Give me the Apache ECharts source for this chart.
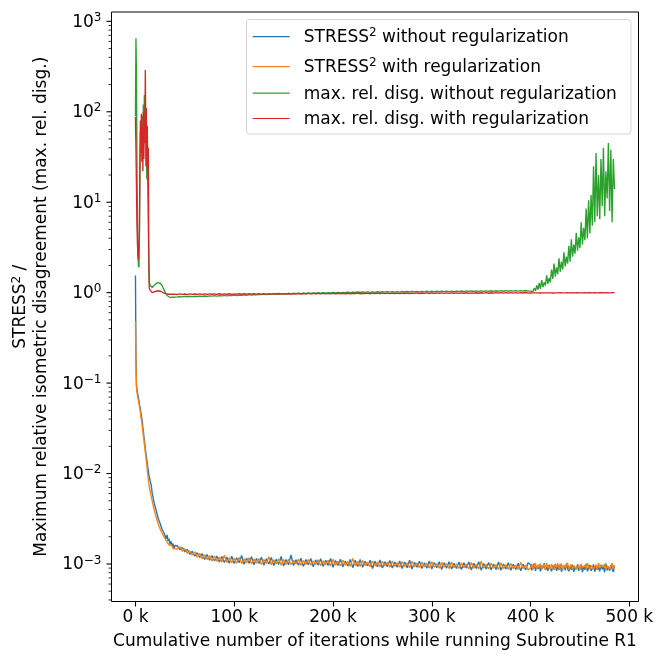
<!DOCTYPE html>
<html><head><meta charset="utf-8">
<script src="https://cdn.jsdelivr.net/npm/echarts@6/dist/echarts.min.js"></script>
<style>html,body{margin:0;padding:0;background:#fff}#c{width:656px;height:654px}</style>
</head><body><div id="c"></div>
<script>
// x values in thousands of cumulative iterations
const iterationsK = [
0,0.5,1,1.5,2,2.5,3,3.5,4,4.5,
5,5.5,6,6.5,7,7.5,8,8.5,9,9.5,
10,10.5,11,11.5,12,12.5,13,13.5,14,
15,16,17,18,19,20,21,22,23,24,
25,26,27,28,29,30,31,32,33,34,
35,36,37,38,39,40,
42.5,45,47.5,50,52.5,55,57.5,60,62.5,65,
67.5,70,72.5,75,77.5,80,82.5,85,87.5,90,
92.5,95,97.5,100,102.5,105,107.5,110,112.5,115,
117.5,120,122.5,125,127.5,130,132.5,135,137.5,140,
142.5,145,147.5,150,152.5,155,157.5,160,162.5,165,
167.5,170,172.5,175,177.5,180,182.5,185,187.5,190,
192.5,195,197.5,200,202.5,205,207.5,210,212.5,215,
217.5,220,222.5,225,227.5,230,232.5,235,237.5,240,
242.5,245,247.5,250,252.5,255,257.5,260,262.5,265,
267.5,270,272.5,275,277.5,280,282.5,285,287.5,290,
292.5,295,297.5,300,302.5,305,307.5,310,312.5,315,
317.5,320,322.5,325,327.5,330,332.5,335,337.5,340,
342.5,345,347.5,350,352.5,355,357.5,360,362.5,365,
367.5,370,372.5,375,377.5,380,382.5,385,387.5,390,
392.5,395,397.5,
400,401.25,402.5,403.75,405,406.25,407.5,408.75,
410,411.25,412.5,413.75,415,416.25,417.5,418.75,
420,421.25,422.5,423.75,425,426.25,427.5,428.75,
430,431.25,432.5,433.75,435,436.25,437.5,438.75,
440,441.25,442.5,443.75,445,446.25,447.5,448.75,
450,451.25,452.5,453.75,455,456.25,457.5,458.75,
460,461.25,462.5,463.75,465,466.25,467.5,468.75,
470,471.25,472.5,473.75,475,476.25,477.5,478.75,
480,481.25,482.5,483.75,485
];

const stressWithoutReg = [
1.55,0.21,0.098,0.085,0.079,0.074,0.069,0.064,0.061,0.055,
0.052,0.047,0.044,0.040,0.037,0.032,0.030,0.026,0.025,0.021,
0.0205,0.017,0.0172,0.0142,0.0145,0.0118,0.0122,0.0098,0.0101,
0.0082,0.0074,0.0060,0.0058,0.0047,0.0046,0.0039,0.0038,0.0032,0.0033,
0.0028,0.0029,0.0024,0.0025,0.0022,0.0023,0.0019,0.0021,0.0018,0.0019,
0.00165,0.00178,0.00158,0.00168,0.00148,0.0016,
1.58e-3,1.44e-3,1.52e-3,1.36e-3,1.45e-3,1.28e-3,1.38e-3,1.22e-3,1.33e-3,1.18e-3,
1.30e-3,1.12e-3,1.27e-3,1.10e-3,1.24e-3,1.08e-3,1.22e-3,1.05e-3,1.21e-3,1.04e-3,
1.19e-3,1.02e-3,1.22e-3,1.01e-3,1.17e-3,1.03e-3,1.24e-3,0.99e-3,1.16e-3,1.02e-3,
1.20e-3,0.98e-3,1.15e-3,1.01e-3,1.19e-3,0.97e-3,1.14e-3,1.00e-3,1.18e-3,0.96e-3,
1.13e-3,0.99e-3,1.21e-3,0.95e-3,1.12e-3,0.98e-3,1.26e-3,0.96e-3,1.11e-3,0.97e-3,
1.16e-3,0.94e-3,1.12e-3,0.98e-3,1.15e-3,0.93e-3,1.11e-3,0.97e-3,1.14e-3,0.94e-3,
1.10e-3,0.96e-3,1.15e-3,0.92e-3,1.09e-3,0.96e-3,1.13e-3,0.93e-3,1.08e-3,0.95e-3,
1.12e-3,0.91e-3,1.10e-3,0.94e-3,1.12e-3,0.92e-3,1.07e-3,0.95e-3,1.10e-3,0.89e-3,
1.07e-3,0.93e-3,1.11e-3,0.90e-3,1.06e-3,0.93e-3,1.09e-3,0.90e-3,1.05e-3,0.92e-3,
1.08e-3,0.89e-3,1.05e-3,0.91e-3,1.10e-3,0.88e-3,1.04e-3,0.92e-3,1.07e-3,0.89e-3,
1.03e-3,0.90e-3,1.08e-3,0.88e-3,1.04e-3,0.91e-3,1.06e-3,0.87e-3,1.03e-3,0.90e-3,
1.06e-3,0.88e-3,1.02e-3,0.89e-3,1.05e-3,0.87e-3,1.03e-3,0.90e-3,1.05e-3,0.86e-3,
1.02e-3,0.89e-3,1.06e-3,0.85e-3,1.01e-3,0.88e-3,1.04e-3,0.86e-3,1.00e-3,0.87e-3,
1.05e-3,0.85e-3,1.00e-3,0.88e-3,1.03e-3,0.85e-3,0.99e-3,0.87e-3,1.02e-3,0.84e-3,
0.99e-3,0.86e-3,1.03e-3,
0.98e-3,0.85e-3,0.93e-3,1.01e-3,0.84e-3,0.95e-3,0.88e-3,0.99e-3,
0.83e-3,0.96e-3,0.90e-3,1.02e-3,0.86e-3,0.92e-3,0.84e-3,0.98e-3,
0.89e-3,0.83e-3,0.97e-3,0.87e-3,1.00e-3,0.84e-3,0.93e-3,0.86e-3,
0.99e-3,0.82e-3,0.91e-3,0.96e-3,0.85e-3,1.01e-3,0.88e-3,0.83e-3,
0.95e-3,0.86e-3,0.98e-3,0.82e-3,0.92e-3,0.87e-3,0.99e-3,0.84e-3,
0.90e-3,0.96e-3,0.81e-3,0.94e-3,0.86e-3,1.00e-3,0.83e-3,0.91e-3,
0.97e-3,0.84e-3,0.89e-3,0.99e-3,0.82e-3,0.95e-3,0.86e-3,0.92e-3,
0.83e-3,0.98e-3,0.87e-3,0.93e-3,0.81e-3,1.01e-3,0.85e-3,0.94e-3,
0.84e-3,0.97e-3,0.88e-3,0.82e-3,0.95e-3
];

const stressWithReg = [
0.48,0.17,0.09,0.08,0.073,0.07,0.064,0.061,0.056,0.052,
0.047,0.045,0.039,0.037,0.032,0.03,0.026,0.024,0.021,0.0195,
0.0168,0.0158,0.0135,0.0128,0.0108,0.0104,0.0087,0.0085,0.0071,
0.0068,0.0056,0.0054,0.0044,0.0043,0.0036,0.0036,0.0030,0.0030,0.0026,
0.0026,0.0023,0.0023,0.0021,0.0021,0.0019,0.00195,0.00175,0.00182,0.00163,
0.0017,0.00155,0.0016,0.00148,0.00155,0.00142,
1.46e-3,1.55e-3,1.38e-3,1.47e-3,1.31e-3,1.40e-3,1.25e-3,1.36e-3,1.19e-3,1.31e-3,
1.14e-3,1.27e-3,1.12e-3,1.23e-3,1.08e-3,1.22e-3,1.07e-3,1.19e-3,1.05e-3,1.25e-3,
1.04e-3,1.17e-3,1.03e-3,1.16e-3,1.02e-3,1.18e-3,1.01e-3,1.14e-3,1.03e-3,1.17e-3,
1.00e-3,1.13e-3,1.02e-3,1.15e-3,0.99e-3,1.12e-3,1.01e-3,1.20e-3,0.98e-3,1.11e-3,
1.00e-3,1.14e-3,0.97e-3,1.12e-3,0.99e-3,1.13e-3,0.98e-3,1.10e-3,1.00e-3,1.13e-3,
0.96e-3,1.09e-3,0.99e-3,1.12e-3,0.97e-3,1.08e-3,0.99e-3,1.11e-3,0.96e-3,1.08e-3,
0.98e-3,1.10e-3,0.95e-3,1.13e-3,0.97e-3,1.07e-3,0.95e-3,1.10e-3,0.97e-3,1.06e-3,
0.94e-3,1.15e-3,0.96e-3,1.06e-3,0.94e-3,1.09e-3,0.96e-3,1.05e-3,0.93e-3,1.08e-3,
0.95e-3,1.05e-3,0.93e-3,1.07e-3,0.95e-3,1.04e-3,0.92e-3,1.08e-3,0.94e-3,1.03e-3,
0.92e-3,1.06e-3,0.94e-3,1.03e-3,0.91e-3,1.07e-3,0.93e-3,1.02e-3,0.91e-3,1.05e-3,
0.93e-3,1.02e-3,0.90e-3,1.06e-3,0.92e-3,1.01e-3,0.90e-3,1.04e-3,0.92e-3,1.01e-3,
0.89e-3,1.05e-3,0.91e-3,1.00e-3,0.89e-3,1.03e-3,0.91e-3,1.00e-3,0.88e-3,1.04e-3,
0.90e-3,0.99e-3,0.88e-3,1.07e-3,0.90e-3,0.99e-3,0.88e-3,1.02e-3,0.90e-3,0.98e-3,
0.87e-3,1.03e-3,0.89e-3,0.98e-3,0.87e-3,1.01e-3,0.89e-3,0.97e-3,0.87e-3,1.04e-3,
0.89e-3,0.97e-3,0.86e-3,
0.90e-3,1.00e-3,0.87e-3,0.96e-3,1.02e-3,0.88e-3,0.97e-3,0.91e-3,
1.01e-3,0.87e-3,0.94e-3,0.99e-3,0.86e-3,1.03e-3,0.90e-3,0.95e-3,
0.87e-3,1.00e-3,0.92e-3,0.86e-3,0.98e-3,0.93e-3,1.02e-3,0.88e-3,
0.94e-3,1.01e-3,0.86e-3,0.97e-3,0.90e-3,0.95e-3,1.03e-3,0.87e-3,
0.92e-3,0.99e-3,0.86e-3,0.96e-3,1.01e-3,0.88e-3,0.93e-3,0.98e-3,
0.86e-3,1.00e-3,0.91e-3,0.87e-3,0.97e-3,0.89e-3,1.02e-3,0.94e-3,
0.87e-3,0.96e-3,1.00e-3,0.88e-3,0.93e-3,0.98e-3,0.86e-3,1.03e-3,
0.91e-3,0.87e-3,0.97e-3,0.92e-3,1.00e-3,0.86e-3,0.95e-3,0.99e-3,
0.88e-3,0.94e-3,1.02e-3,0.89e-3,0.97e-3
];

const disgWithoutReg = [
90,650,280,30,6,2.8,2.0,1.9,4,20,
60,45,70,35,90,40,120,55,153,45,
80,25,60,18,40,15,6,1.8,1.28,
1.20,1.16,1.14,1.19,1.21,1.25,1.27,1.29,1.31,1.28,
1.27,1.22,1.20,1.13,1.08,1.02,0.97,0.93,0.91,0.895,
0.885,0.88,0.885,0.89,0.888,0.895,
0.897,0.905,0.899,0.908,0.901,0.911,0.903,0.909,0.906,0.915,
0.908,0.918,0.911,0.921,0.914,0.925,0.917,0.924,0.921,0.931,
0.922,0.933,0.926,0.937,0.93,0.941,0.933,0.945,0.936,0.949,
0.941,0.952,0.944,0.956,0.949,0.961,0.951,0.963,0.956,0.968,
0.958,0.971,0.962,0.975,0.965,0.978,0.969,0.982,0.972,0.985,
0.975,0.988,0.978,0.991,0.981,0.995,0.984,0.997,0.987,1.0,
0.99,1.002,0.992,1.005,0.994,1.008,0.996,1.009,0.998,1.012,
1.0,1.014,1.003,1.016,1.004,1.019,1.006,1.02,1.007,1.021,
1.009,1.023,1.01,1.024,1.012,1.026,1.013,1.027,1.014,1.028,
1.015,1.03,1.016,1.031,1.017,1.033,1.018,1.034,1.019,1.035,
1.02,1.036,1.021,1.037,1.022,1.038,1.023,1.039,1.024,1.04,
1.025,1.041,1.026,1.042,1.027,1.043,1.028,1.044,1.029,1.045,
1.03,1.046,1.031,1.047,1.032,1.048,1.033,1.049,1.034,1.05,
1.035,1.051,1.036,1.052,1.037,1.053,1.038,1.054,1.039,1.055,
1.04,1.056,1.041,
1.04,1.06,1.03,1.12,1.05,1.2,1.08,1.28,
1.1,1.38,1.15,1.3,1.2,1.55,1.25,1.45,
1.3,1.8,1.42,2.1,1.5,1.9,1.6,2.4,
1.7,2.2,1.8,2.8,1.95,2.5,2.1,3.3,
2.2,3.9,2.5,3.4,2.7,4.6,2.9,4.1,
3.1,6.0,3.4,5.2,3.8,8.5,4.0,10.5,
4.5,12,5.5,25,6.0,35,7.0,20,
6.5,30,9,40,7,22,11,45,
8,38,6,30,14
];

const disgWithReg = [
88,40,15,6,3.5,2.6,2.3,2.4,5,25,
80,35,95,28,70,22,100,30,85,45,
290,60,110,25,70,20,40,3,1.12,
1.06,1.02,1.0,0.99,1.01,1.03,1.04,1.05,1.05,1.04,
1.03,1.03,1.02,1.0,0.99,0.975,0.97,0.965,0.96,0.965,
0.96,0.962,0.958,0.963,0.96,0.962,
0.955,0.968,0.958,0.966,0.953,0.969,0.957,0.967,0.955,0.97,
0.958,0.969,0.956,0.971,0.96,0.968,0.957,0.972,0.959,0.97,
0.961,0.973,0.958,0.971,0.962,0.974,0.96,0.972,0.963,0.975,
0.961,0.974,0.964,0.976,0.962,0.975,0.965,0.977,0.963,0.976,
0.966,0.978,0.964,0.977,0.967,0.979,0.965,0.978,0.968,0.98,
0.966,0.979,0.969,0.981,0.967,0.98,0.97,0.982,0.968,0.981,
0.971,0.983,0.969,0.982,0.972,0.984,0.97,0.983,0.973,0.985,
0.971,0.984,0.974,0.986,0.972,0.985,0.975,0.987,0.973,0.986,
0.976,0.988,0.974,0.987,0.977,0.989,0.975,0.988,0.978,0.99,
0.976,0.989,0.979,0.991,0.977,0.99,0.98,0.992,0.978,0.991,
0.981,0.993,0.979,0.992,0.982,0.994,0.98,0.993,0.983,0.995,
0.981,0.994,0.984,0.996,0.982,0.995,0.985,0.997,0.983,0.996,
0.986,0.998,0.984,0.997,0.987,0.999,0.985,0.998,0.988,1.0,
0.986,0.999,0.989,1.001,0.987,1.0,0.99,1.002,0.988,1.001,
0.991,1.003,0.989,
0.992,1.004,0.994,1.006,0.993,1.003,0.995,1.005,
0.992,1.006,0.996,1.004,0.993,1.007,0.995,1.005,
0.994,1.006,0.992,1.005,0.996,1.007,0.994,1.004,
0.997,1.008,0.995,1.006,0.993,1.005,0.997,1.008,
0.994,1.006,0.998,1.009,0.995,1.004,0.997,1.007,
0.995,1.009,0.996,1.006,0.999,1.008,0.994,1.006,
0.998,1.009,0.996,1.007,0.999,1.010,0.995,1.008,
0.997,1.009,0.999,1.006,0.996,1.010,0.998,1.008,
0.996,1.009,0.998,1.006,1.001
];

const seriesNames = [
  'STRESS² without regularization',
  'STRESS² with regularization',
  'max. rel. disg. without regularization',
  'max. rel. disg. with regularization'
];
const seriesColors = ['#1f77b4', '#ff7f0e', '#2ca02c', '#d62728'];

const xTickValuesK = [0, 100, 200, 300, 400, 500];
const yMajorTicks = [1e-3, 1e-2, 1e-1, 1, 10, 100, 1000];
const yMinorTicks = [
  4e-4, 5e-4, 6e-4, 7e-4, 8e-4, 9e-4,
  2e-3, 3e-3, 4e-3, 5e-3, 6e-3, 7e-3, 8e-3, 9e-3,
  2e-2, 3e-2, 4e-2, 5e-2, 6e-2, 7e-2, 8e-2, 9e-2,
  0.2, 0.3, 0.4, 0.5, 0.6, 0.7, 0.8, 0.9,
  2, 3, 4, 5, 6, 7, 8, 9,
  20, 30, 40, 50, 60, 70, 80, 90,
  200, 300, 400, 500, 600, 700, 800, 900
];

const allSeries = [stressWithoutReg, stressWithReg, disgWithoutReg, disgWithReg];
allSeries.forEach((a, i) => { if (a.length !== iterationsK.length) throw new Error('length mismatch in series ' + i + ': ' + a.length + ' vs ' + iterationsK.length); });

const FONT = 'DejaVu Sans';
const FS = 17, SUP = 12;
const X_MIN = -24.25, X_MAX = 509.25;
const Y_MIN = 3.846e-4, Y_MAX = 1268;

const richSup = {
  b: { fontSize: FS, fontFamily: FONT, color: '#000', padding: [2, 0, 0, 0], verticalAlign: 'bottom' },
  s: { fontSize: SUP, fontFamily: FONT, color: '#000', verticalAlign: 'top' }
};

function supLabel(name) {
  if (name.indexOf('STRESS²') === 0) {
    return '{b|STRESS}{s|2}{b|' + name.slice(7) + '}';
  }
  return '{b|' + name + '}';
}

const chart = echarts.init(document.getElementById('c'), null, { renderer: 'canvas' });

const lineSeries = seriesNames.map((name, i) => ({
  name: name,
  type: 'line',
  data: iterationsK.map((x, j) => [x, allSeries[i][j]]),
  showSymbol: false,
  symbol: 'none',
  color: seriesColors[i],
  itemStyle: { color: seriesColors[i] },
  lineStyle: { color: seriesColors[i], width: 1.35 },
  sampling: null,
  silent: true,
  z: 2 + i
}));

function tickSeries(values, len, width) {
  return {
    type: 'custom',
    silent: true,
    clip: false,
    z: 10,
    data: values.map(v => [X_MIN, v]),
    renderItem: function (params, api) {
      const c = api.coord([api.value(0), api.value(1)]);
      return {
        type: 'line',
        shape: { x1: c[0] - len, y1: c[1], x2: c[0], y2: c[1] },
        style: { stroke: '#000', lineWidth: width }
      };
    }
  };
}

const legendRowTops = [27.2, 57.2, 85.7, 111.0];

const option = {
  animation: false,
  backgroundColor: '#fff',
  grid: {
    left: 111.5, right: 17.5, top: 12, bottom: 52.5,
    show: true, borderColor: '#000', borderWidth: 1, backgroundColor: 'transparent',
    containLabel: false, outerBoundsMode: 'none'
  },
  xAxis: {
    type: 'value', min: X_MIN, max: X_MAX,
    splitLine: { show: false },
    axisLine: { show: false },
    axisTick: { show: true, length: 5, lineStyle: { color: '#000', width: 1.1 }, customValues: xTickValuesK },
    axisLabel: {
      customValues: xTickValuesK,
      formatter: v => v + ' k',
      fontSize: FS, fontFamily: FONT, color: '#000', margin: 8
    },
    name: 'Cumulative number of iterations while running Subroutine R1',
    nameLocation: 'middle', nameGap: 32,
    nameTextStyle: { fontSize: FS, fontFamily: FONT, color: '#000' }
  },
  yAxis: {
    type: 'log', logBase: 10, min: Y_MIN, max: Y_MAX,
    splitLine: { show: false },
    axisLine: { show: false },
    axisTick: { show: false },
    minorTick: { show: false },
    axisLabel: {
      margin: 10,
      formatter: function (v) {
        const l = Math.log10(v);
        const e = Math.round(l);
        if (Math.abs(l - e) > 1e-6) return '';
        const es = e < 0 ? '\u2212' + (-e) : String(e);
        return '{b|10}{s|' + es + '}';
      },
      rich: richSup
    },
    name: '{b|STRESS}{s|2}{b| /}\n{c|Maximum relative isometric disagreement (max. rel. disg.)}',
    nameLocation: 'middle', nameRotate: 90, nameGap: 59,
    nameTextStyle: {
      fontSize: FS, fontFamily: FONT, color: '#000',
      rich: {
        b: { fontSize: FS, fontFamily: FONT, color: '#000', lineHeight: 21 },
        s: { fontSize: SUP, fontFamily: FONT, color: '#000', verticalAlign: 'top', padding: [0, 0, 0, 0] },
        c: { fontSize: FS, fontFamily: FONT, color: '#000', lineHeight: 21 }
      }
    }
  },
  legend: seriesNames.map((name, i) => ({
    data: [name],
    left: 252.7,
    top: legendRowTops[i],
    padding: 0,
    itemWidth: 37,
    itemHeight: 1.2,
    icon: 'rect',
    selectedMode: false,
    z: 20,
    formatter: n => supLabel(n),
    textStyle: { fontSize: FS, fontFamily: FONT, color: '#000', padding: [0, 0, 0, 9], rich: richSup }
  })),
  graphic: [{
    type: 'rect', z: 15, silent: true,
    shape: { x: 246.5, y: 19.5, width: 384.5, height: 114.5, r: 3 },
    style: { fill: 'rgba(255,255,255,0.8)', stroke: '#d4d4d4', lineWidth: 1 }
  }],
  series: lineSeries.concat([
    tickSeries(yMajorTicks, 5, 1.1),
    tickSeries(yMinorTicks, 3, 0.8)
  ])
};

chart.setOption(option);
</script>
</body></html>
